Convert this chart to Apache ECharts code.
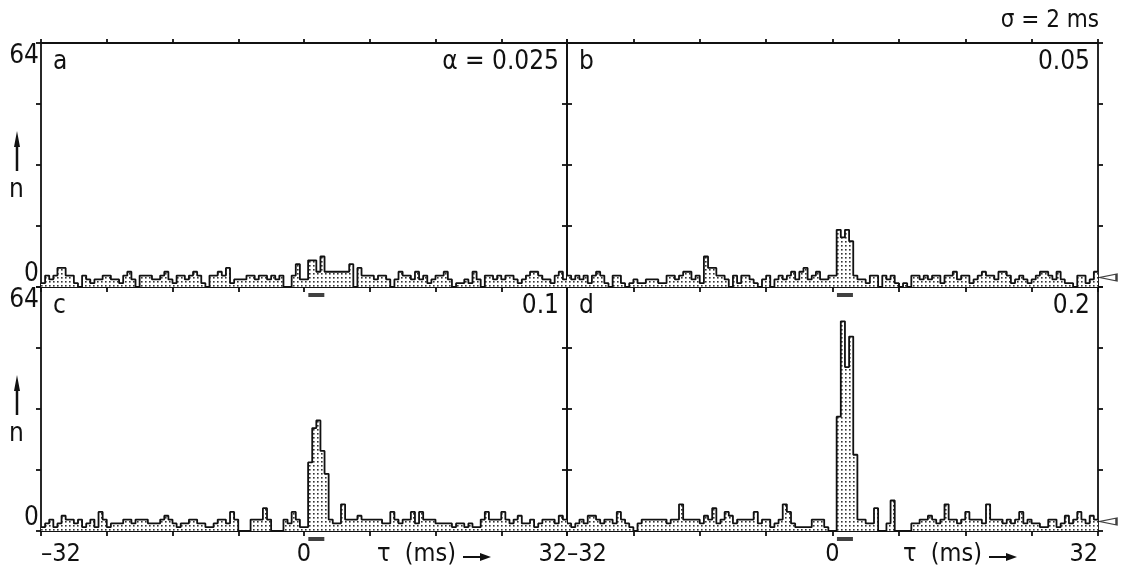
<!DOCTYPE html>
<html>
<head>
<meta charset="utf-8">
<script src="https://cdn.jsdelivr.net/npm/echarts@6/dist/echarts.min.js"></script>
<style>
  html, body { margin: 0; padding: 0; background: #fff; }
  #chart { width: 1123px; height: 573px; }
</style>
</head>
<body>
<div id="chart"></div>
<script>
// histogram counts, 0.5 ms bins from -32 to +32 ms (128 bins per panel)
var binStart = -32
var binWidth = 0.5
var countsA = [
  1, 3, 2, 3, 5, 5, 3, 3, 1, 0, 3, 2, 1, 2, 2, 3,
  3, 2, 2, 1, 3, 4, 2, 0, 3, 3, 3, 2, 2, 3, 4, 2,
  1, 3, 3, 2, 3, 4, 3, 1, 0, 3, 3, 4, 3, 5, 1, 2,
  2, 2, 3, 3, 2, 3, 3, 2, 3, 2, 3, 0, 0, 3, 6, 2,
  2, 7, 7, 4, 8, 4, 4, 4, 4, 4, 4, 6, 0, 5, 3, 3,
  3, 2, 3, 3, 2, 0, 2, 4, 3, 3, 2, 4, 2, 3, 1, 2,
  3, 3, 4, 2, 0, 1, 1, 2, 1, 4, 2, 0, 3, 3, 2, 3,
  2, 3, 3, 2, 1, 2, 3, 4, 4, 3, 2, 2, 1, 3, 4, 2
]
var countsB = [
  3, 2, 3, 2, 3, 1, 3, 4, 3, 1, 0, 3, 3, 1, 0, 1,
  2, 1, 1, 2, 2, 2, 1, 1, 3, 3, 2, 3, 4, 4, 2, 3,
  1, 8, 5, 5, 3, 3, 2, 0, 3, 1, 3, 3, 2, 1, 0, 2,
  3, 0, 2, 3, 2, 3, 4, 2, 4, 5, 2, 3, 4, 2, 2, 3,
  3, 15, 13, 15, 12, 3, 2, 2, 1, 3, 3, 0, 3, 2, 3, 1,
  0, 1, 0, 3, 3, 2, 3, 2, 3, 3, 1, 3, 3, 4, 2, 3,
  3, 1, 2, 3, 4, 3, 3, 2, 4, 4, 3, 1, 2, 3, 2, 1,
  2, 3, 4, 4, 3, 2, 4, 2, 1, 1, 0, 3, 3, 1, 2, 4
]
var countsC = [
  1, 2, 3, 1, 2, 4, 3, 3, 2, 3, 1, 2, 3, 1, 5, 3,
  1, 2, 2, 2, 3, 3, 2, 3, 3, 3, 2, 2, 2, 3, 4, 3,
  2, 1, 2, 2, 3, 3, 2, 2, 1, 1, 2, 3, 3, 2, 5, 3,
  0, 0, 0, 3, 3, 3, 6, 3, 0, 0, 0, 3, 2, 5, 3, 1,
  1, 18, 27, 29, 21, 15, 3, 2, 2, 7, 3, 3, 3, 4, 3, 3,
  3, 3, 3, 2, 2, 5, 3, 2, 3, 3, 5, 2, 5, 3, 3, 3,
  2, 2, 2, 2, 1, 2, 2, 1, 2, 1, 1, 3, 5, 3, 3, 3,
  5, 3, 2, 3, 4, 2, 2, 3, 1, 2, 3, 3, 3, 2, 4, 3
]
var countsD = [
  2, 1, 2, 3, 2, 4, 4, 3, 2, 3, 3, 2, 5, 3, 2, 1,
  0, 2, 3, 3, 3, 3, 3, 3, 2, 3, 3, 7, 3, 3, 3, 3,
  2, 4, 3, 6, 2, 3, 5, 4, 2, 3, 3, 3, 3, 5, 2, 3,
  3, 1, 2, 3, 7, 5, 2, 1, 1, 1, 1, 3, 3, 3, 1, 0,
  0, 30, 55, 43, 51, 20, 3, 3, 2, 2, 6, 0, 0, 2, 8, 0,
  0, 0, 0, 2, 2, 3, 3, 4, 3, 2, 3, 7, 3, 3, 2, 3,
  5, 3, 3, 3, 2, 7, 3, 3, 3, 2, 3, 2, 3, 5, 2, 3,
  2, 2, 1, 1, 3, 3, 1, 2, 4, 2, 3, 5, 3, 2, 4, 3
]
var panelLetters = ['a', 'b', 'c', 'd']
var alphaLabels = ['\u03b1 = 0.025', '0.05', '0.1', '0.2']
var xTickLabels = [-32, 0, 32]
var yTickLabels = [0, 64]
var windowMark = [1.5] // short bar under the axis
var pointerLevel = [2.5] // open triangle at right edge of b and d

var FONT = '"DejaVu Sans Condensed", "Liberation Sans Narrow", "DejaVu Sans", sans-serif'
var INK = '#111'

var L = 41, M = 567, R = 1098, T = 43, H = 244
var grids = [
  { left: L, top: T, width: M - L, height: H },
  { left: M, top: T, width: R - M, height: H },
  { left: L, top: T + H, width: M - L, height: H },
  { left: M, top: T + H, width: R - M, height: H }
]

// stipple pattern for the histogram fill
var dots = document.createElement('canvas')
dots.width = 4
dots.height = 4
var dctx = dots.getContext('2d')
dctx.fillStyle = '#fff'
dctx.fillRect(0, 0, 4, 4)
dctx.fillStyle = '#333'
dctx.fillRect(1, 1, 1.6, 1.6)

function toSteps(counts) {
  var pts = counts.map(function (v, i) { return [binStart + i * binWidth, v] })
  pts.push([binStart + counts.length * binWidth, counts[counts.length - 1]])
  return pts
}

var lineStyle = { color: INK, width: 1.8 }
var xAxis = []
var yAxis = []
grids.forEach(function (g, k) {
  var bottomRow = k >= 2
  var leftCol = k % 2 === 0
  xAxis.push({
    type: 'value', gridIndex: k, min: -32, max: 32, interval: 8,
    axisLine: { show: true, onZero: false, lineStyle: lineStyle },
    axisTick: { show: true, length: 5, lineStyle: lineStyle },
    splitLine: { show: false },
    axisLabel: {
      show: bottomRow, color: INK, fontFamily: FONT, fontSize: 25, margin: 11,
      showMinLabel: true, showMaxLabel: true,
      alignMinLabel: 'left', alignMaxLabel: 'right',
      formatter: function (v) {
        return xTickLabels.indexOf(v) >= 0 ? String(v).replace('-', '\u2013') : ''
      }
    }
  })
  xAxis.push({
    type: 'value', gridIndex: k, position: 'top', min: -32, max: 32, interval: 8,
    axisLine: { show: true, onZero: false, lineStyle: lineStyle },
    axisTick: { show: true, length: 4, lineStyle: lineStyle },
    splitLine: { show: false },
    axisLabel: { show: false }
  })
  yAxis.push({
    type: 'value', gridIndex: k, position: 'left', min: 0, max: 64, interval: 16,
    axisLine: { show: true, onZero: false, lineStyle: lineStyle },
    axisTick: { show: true, length: 5, lineStyle: lineStyle },
    splitLine: { show: false },
    axisLabel: {
      show: leftCol, color: INK, fontFamily: FONT, fontSize: 26, margin: 2,
      verticalAlignMinLabel: 'bottom', verticalAlignMaxLabel: 'top',
      formatter: function (v) { return yTickLabels.indexOf(v) >= 0 ? String(v) : '' }
    }
  })
  yAxis.push({
    type: 'value', gridIndex: k, position: 'right', min: 0, max: 64, interval: 16,
    axisLine: { show: true, onZero: false, lineStyle: lineStyle },
    axisTick: { show: true, length: 5, lineStyle: lineStyle },
    splitLine: { show: false },
    axisLabel: { show: false }
  })
})

var allCounts = [countsA, countsB, countsC, countsD]
var series = []
allCounts.forEach(function (counts, k) {
  series.push({
    type: 'line', step: 'end', xAxisIndex: k * 2, yAxisIndex: k * 2,
    data: toSteps(counts), symbol: 'none', silent: true,
    lineStyle: { color: INK, width: 1.8 },
    areaStyle: { color: { image: dots, repeat: 'repeat' }, opacity: 1 }
  })
  series.push({
    type: 'scatter', xAxisIndex: k * 2, yAxisIndex: k * 2, clip: false,
    data: windowMark.map(function (x) { return [x, 0] }),
    symbol: 'rect', symbolSize: [16, 4], symbolOffset: [0, 8],
    itemStyle: { color: INK }
  })
  if (k % 2 === 1) {
    series.push({
      type: 'scatter', xAxisIndex: k * 2, yAxisIndex: k * 2, clip: false,
      data: pointerLevel.map(function (y) { return [32, y] }),
      symbol: 'triangle', symbolSize: [7, 17], symbolRotate: 90, symbolOffset: [10, 0],
      itemStyle: { color: '#fff', borderColor: INK, borderWidth: 1.6 }
    })
  }
})

var graphic = []
function txt(opts, text, size) {
  opts.type = 'text'
  opts.style = { text: text, fill: INK, font: size + 'px ' + FONT }
  return opts
}
grids.forEach(function (g, k) {
  graphic.push(txt({ left: g.left + 12, top: g.top + 6 }, panelLetters[k], 26))
  graphic.push(txt({ right: 1123 - (g.left + g.width) + 8, top: g.top + 6 }, alphaLabels[k], 26))
})
graphic.push(txt({ right: 24, top: 9 }, '\u03c3 = 2 ms', 24))
;[T, T + H].forEach(function (top) {
  graphic.push({ type: 'line', shape: { x1: 17, y1: top + 98, x2: 17, y2: top + 128 }, style: { stroke: INK, lineWidth: 2.5 } })
  graphic.push({ type: 'polygon', shape: { points: [[17, top + 88], [14, top + 104], [20, top + 104]] }, style: { fill: INK } })
  graphic.push(txt({ left: 9, top: top + 134 }, 'n', 26))
})
;[L, M].forEach(function (left) {
  graphic.push(txt({ left: left + 336, top: H * 2 + T + 11 }, '\u03c4  (ms)', 25))
  graphic.push({ type: 'line', shape: { x1: left + 422, y1: H * 2 + T + 26, x2: left + 442, y2: H * 2 + T + 26 }, style: { stroke: INK, lineWidth: 2 } })
  graphic.push({ type: 'polygon', shape: { points: [[left + 450, H * 2 + T + 26], [left + 439, H * 2 + T + 22], [left + 439, H * 2 + T + 30]] }, style: { fill: INK } })
})

var chart = echarts.init(document.getElementById('chart'), null, { renderer: 'canvas' })
chart.setOption({
  animation: false,
  backgroundColor: '#fff',
  grid: grids,
  xAxis: xAxis,
  yAxis: yAxis,
  series: series,
  graphic: graphic
})
</script>
</body>
</html>
